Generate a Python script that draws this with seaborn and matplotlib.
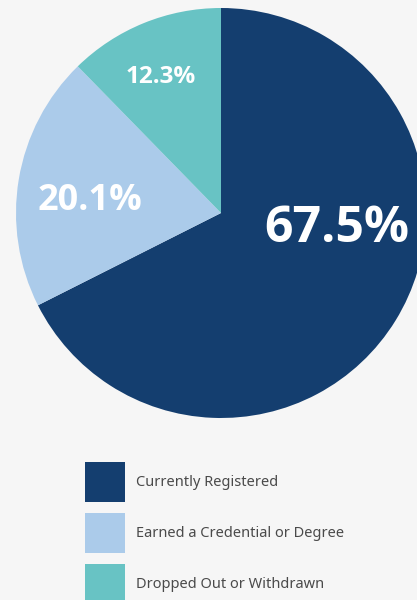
import matplotlib
matplotlib.use("Agg")
import matplotlib.pyplot as plt
import seaborn as sns
from matplotlib.patches import Patch

categories = ["Currently Registered", "Earned a Credential or Degree", "Dropped Out or Withdrawn"]
values = [67.5, 20.1, 12.3]
pct_labels = ["67.5%", "20.1%", "12.3%"]
colors = ["#143e6f", "#abcbea", "#68c3c4"]

sns.set_theme(style="white")
plt.rcParams['font.family'] = ['Noto Sans', 'DejaVu Sans']

W, H = 417, 600
fig = plt.figure(figsize=(W / 100, H / 100), dpi=100, facecolor="#f6f6f6")

cx, cy, r = 221, 213, 205
ax = fig.add_axes([(cx - r) / W, 1 - (cy + r) / H, 2 * r / W, 2 * r / H])
ax.set_facecolor("none")
wedges, _ = ax.pie(values, colors=colors, startangle=90, counterclock=False,
                   radius=1, wedgeprops=dict(linewidth=0))
for w in wedges:
    w.set_clip_on(False)
ax.set_xlim(-1, 1)
ax.set_ylim(-1, 1)
ax.set_aspect("equal")
ax.axis("off")

label_pos = [(0.563, -0.076), (-0.639, 0.057), (-0.293, 0.664)]
label_sizes = [36, 26, 17.5]
for txt, (x, y), s in zip(pct_labels, label_pos, label_sizes):
    ax.text(x, y, txt, ha="center", va="center", color="white",
            fontsize=s, fontweight="bold", family=["Open Sans", "DejaVu Sans"],
            clip_on=False)

handles = [Patch(facecolor=c, edgecolor="none") for c in colors]
fs = 10.5
fpx = fs * 100 / 72
hh = (40 / fpx - 0.245) / 0.65
leg = fig.legend(handles, categories, loc="upper left",
                 bbox_to_anchor=(85 / W, 1 - 462 / H), frameon=False,
                 borderpad=0, borderaxespad=0, fontsize=fs,
                 handlelength=40 / fpx, handleheight=hh,
                 handletextpad=11 / fpx, labelspacing=11 / fpx)
for t in leg.get_texts():
    t.set_color("#4a4a4a")
    t.set_fontweight("light")

fig.savefig("out.png", dpi=100, facecolor=fig.get_facecolor())
